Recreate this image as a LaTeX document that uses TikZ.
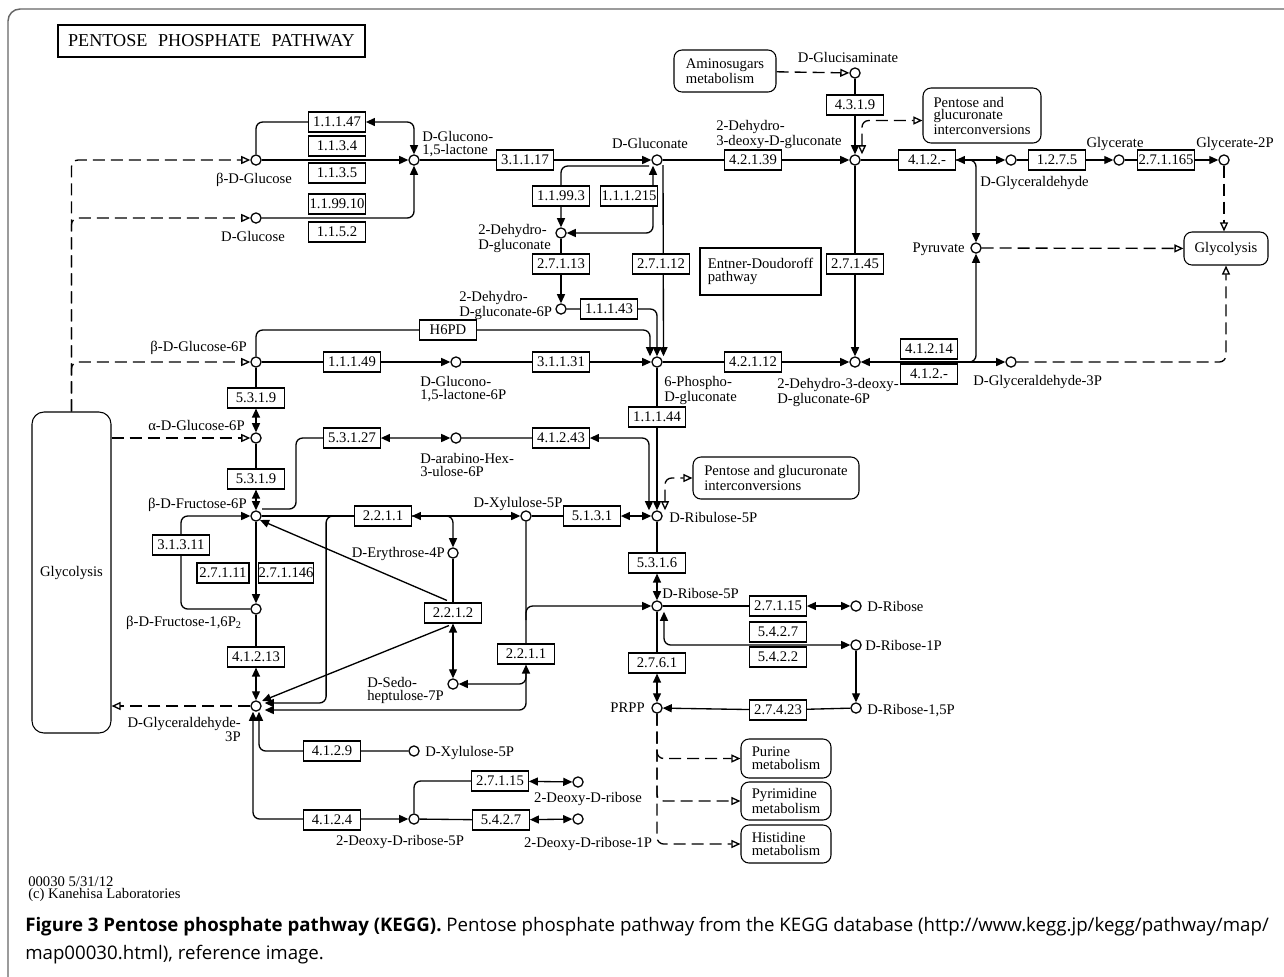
\documentclass[tikz,border=0pt]{standalone}
\usepackage{fontspec}
\setmainfont{Liberation Serif}
\newfontfamily\capfont{Open Sans}
\usetikzlibrary{calc,arrows.meta,backgrounds}

\newcommand{\keggfont}{\fontsize{11}{9.6}\selectfont}
\newcommand{\pptitlefont}{\fontsize{13.6}{14}\selectfont}

\tikzset{
  cpd/.style={circle, draw, fill=white, line width=0.95pt, inner sep=0pt, minimum size=7.6pt},
  ec/.style={draw, fill=white, line width=0.8pt, inner sep=0pt, minimum width=42.5pt, minimum height=15pt, font=\keggfont},
  mapbox/.style={draw, fill=white, line width=0.8pt, rounded corners=6pt, align=left, inner sep=0pt, font=\keggfont},
  lbl/.style={inner sep=0pt, align=left, font=\keggfont},
  rxn/.style={line width=1pt, rounded corners=5pt},
  fwd/.style={rxn, -{Triangle[length=6.8pt,width=6pt]}},
  bidir/.style={rxn, {Triangle[length=6.8pt,width=6pt]}-{Triangle[length=6.8pt,width=6pt]}},
  lnk/.style={line width=1pt, rounded corners=5pt, dash pattern=on 9pt off 4.5pt, -{Triangle[open,length=6.8pt,width=6pt]}},
  lnkb/.style={lnk, {Triangle[open,length=6.8pt,width=6pt]}-{Triangle[open,length=6.8pt,width=6pt]}},
}

\begin{document}
\begin{tikzpicture}[x=0.75pt, y=-0.75pt]
    \useasboundingbox (0,0) rectangle (1284,976);

    % frame round the figure
    \draw[black!60, line width=1.1pt, rounded corners=9pt] (8,995) -- (8,9) -- (1295,9);

    % title
    \node[draw, line width=1.7pt, minimum width=230pt, minimum height=24pt, inner sep=0pt, font=\pptitlefont] (title) at (211.5,41) {PENTOSE\hspace{8pt}PHOSPHATE\hspace{8pt}PATHWAY};

    % Define compounds
    \node[cpd] (bglc)   at (256,160) {};
    \node[cpd] (glc)    at (256,218) {};
    \node[cpd] (glcnl)  at (414,160) {};
    \node[cpd] (glcn)   at (657,160) {};
    \node[cpd] (dhg)    at (561,233) {};
    \node[cpd] (dhg6p)  at (561,309) {};
    \node[cpd] (glcsn)  at (855,73) {};
    \node[cpd] (kdg)    at (855,160) {};
    \node[cpd] (glyald) at (1011,160) {};
    \node[cpd] (glyc)   at (1119,160) {};
    \node[cpd] (glyc2p) at (1224,160) {};
    \node[cpd] (pyr)    at (976,248) {};
    \node[cpd] (g6p)    at (256,362) {};
    \node[cpd] (gnl6p)  at (456,362) {};
    \node[cpd] (pg6)    at (657,362) {};
    \node[cpd] (kdpg)   at (855,362) {};
    \node[cpd] (gap2)   at (1011,362) {};
    \node[cpd] (a6p)    at (256,438) {};
    \node[cpd] (hu6p)   at (456,438) {};
    \node[cpd] (f6p)    at (256,516) {};
    \node[cpd] (xu5p)   at (526,516) {};
    \node[cpd] (ru5p)   at (657,516) {};
    \node[cpd] (e4p)    at (453,553) {};
    \node[cpd] (fbp)    at (256,609) {};
    \node[cpd] (r5p)    at (657,606) {};
    \node[cpd] (rib)    at (856,606) {};
    \node[cpd] (r1p)    at (856,645) {};
    \node[cpd] (s7p)    at (453,684) {};
    \node[cpd] (gap)    at (256,706) {};
    \node[cpd] (prpp)   at (657,708) {};
    \node[cpd] (r15p)   at (856,708) {};
    \node[cpd] (xu5pb)  at (414,751) {};
    \node[cpd] (drib)   at (578,782) {};
    \node[cpd] (dr5p)   at (414,819) {};
    \node[cpd] (dr1p)   at (578,819) {};

    % Label compounds
    \node[lbl, anchor=north] (bglcL) at (254,173) {β-D-Glucose};
    \node[lbl, anchor=north] (glcL) at (253,231) {D-Glucose};
    \node[lbl, anchor=north west] (glcnlL) at (422,131) {D-Glucono-\\1,5-lactone};
    \node[lbl, anchor=north] (glcnL) at (650,138) {D-Gluconate};
    \node[lbl, anchor=north west] (kdgL) at (716,120) {2-Dehydro-\\3-deoxy-D-gluconate};
    \node[lbl, anchor=north] (glcsnL) at (848,52) {D-Glucisaminate};
    \node[lbl, anchor=north west] (dhgL) at (478,224) {2-Dehydro-\\D-gluconate};
    \node[lbl, anchor=north west] (dhg6pL) at (459,291) {2-Dehydro-\\D-gluconate-6P};
    \node[lbl, anchor=north] (glycL) at (1115,137) {Glycerate};
    \node[lbl, anchor=north] (glyc2pL) at (1235,137) {Glycerate-2P};
    \node[lbl, anchor=north west] (glyaldL) at (980,176) {D-Glyceraldehyde};
    \node[lbl, anchor=north east] (pyrL) at (965,243) {Pyruvate};
    \node[lbl, anchor=north east] (g6pL) at (247,341) {β-D-Glucose-6P};
    \node[lbl, anchor=north east] (a6pL) at (245,420) {α-D-Glucose-6P};
    \node[lbl, anchor=north east] (f6pL) at (247,498) {β-D-Fructose-6P};
    \node[lbl, anchor=north east] (fbpL) at (242,616) {β-D-Fructose-1,6P\textsubscript{2}};
    \node[lbl, anchor=north east, align=right] (gapL) at (241,717) {D-Glyceraldehyde-\\3P};
    \node[lbl, anchor=north west] (gnl6pL) at (420,376) {D-Glucono-\\1,5-lactone-6P};
    \node[lbl, anchor=north west] (pg6L) at (664,376) {6-Phospho-\\D-gluconate};
    \node[lbl, anchor=north west] (kdpgL) at (777,378) {2-Dehydro-3-deoxy-\\D-gluconate-6P};
    \node[lbl, anchor=north west] (gap2L) at (973,375) {D-Glyceraldehyde-3P};
    \node[lbl, anchor=north west] (hu6pL) at (420,453) {D-arabino-Hex-\\3-ulose-6P};
    \node[lbl, anchor=north] (xu5pL) at (518,497) {D-Xylulose-5P};
    \node[lbl, anchor=north west] (ru5pL) at (669,512) {D-Ribulose-5P};
    \node[lbl, anchor=north east] (e4pL) at (445,547) {D-Erythrose-4P};
    \node[lbl, anchor=north west] (r5pL) at (662,588) {D-Ribose-5P};
    \node[lbl, anchor=north west] (ribL) at (867,601) {D-Ribose};
    \node[lbl, anchor=north west] (r1pL) at (865,640) {D-Ribose-1P};
    \node[lbl, anchor=north west] (r15pL) at (867,704) {D-Ribose-1,5P};
    \node[lbl, anchor=north east] (prppL) at (645,703) {PRPP};
    \node[lbl, anchor=north west] (s7pL) at (367,677) {D-Sedo-\\heptulose-7P};
    \node[lbl, anchor=north west] (xu5pbL) at (425,746) {D-Xylulose-5P};
    \node[lbl, anchor=north] (dr5pL) at (400,835) {2-Deoxy-D-ribose-5P};
    \node[lbl, anchor=north] (dribL) at (588,792) {2-Deoxy-D-ribose};
    \node[lbl, anchor=north] (dr1pL) at (588,837) {2-Deoxy-D-ribose-1P};

    % Enzyme boxes
    \node[ec] (e11147)  at (337,122) {1.1.1.47};
    \node[ec] (e1134)   at (337,146) {1.1.3.4};
    \node[ec] (e1135)   at (337,173) {1.1.3.5};
    \node[ec] (e119910) at (337,204) {1.1.99.10};
    \node[ec] (e1152)   at (337,232) {1.1.5.2};
    \node[ec] (e31117)  at (525,160) {3.1.1.17};
    \node[ec] (e11993)  at (561,196) {1.1.99.3};
    \node[ec] (e111215) at (629,196) {1.1.1.215};
    \node[ec] (e27113)  at (561,264) {2.7.1.13};
    \node[ec] (e27112)  at (661,264) {2.7.1.12};
    \node[ec] (e11143)  at (609,309) {1.1.1.43};
    \node[ec] (h6pd)    at (448,330) {H6PD};
    \node[ec] (e42139)  at (753,160) {4.2.1.39};
    \node[ec] (e4319)   at (855,105) {4.3.1.9};
    \node[ec] (e27145)  at (855,264) {2.7.1.45};
    \node[ec] (e412a)   at (927,160) {4.1.2.-};
    \node[ec] (e1275)   at (1057,160) {1.2.7.5};
    \node[ec] (e271165) at (1166,160) {2.7.1.165};
    \node[ec] (e41214)  at (929,349) {4.1.2.14};
    \node[ec] (e412b)   at (929,374) {4.1.2.-};
    \node[ec] (e11149)  at (352,362) {1.1.1.49};
    \node[ec] (e31131)  at (561,362) {3.1.1.31};
    \node[ec] (e42112)  at (753,362) {4.2.1.12};
    \node[ec] (e11144)  at (657,417) {1.1.1.44};
    \node[ec] (e5319a)  at (256,398) {5.3.1.9};
    \node[ec] (e5319b)  at (256,479) {5.3.1.9};
    \node[ec] (e53127)  at (352,438) {5.3.1.27};
    \node[ec] (e41243)  at (561,438) {4.1.2.43};
    \node[ec] (e2211a)  at (383,516) {2.2.1.1};
    \node[ec] (e5131)   at (592,516) {5.1.3.1};
    \node[ec] (e31311)  at (181,545) {3.1.3.11};
    \node[ec, minimum width=39pt] (e27111)  at (223,573) {2.7.1.11};
    \node[ec, minimum width=40.5pt] (e271146) at (286,573) {2.7.1.146};
    \node[ec] (e5316)   at (657,563) {5.3.1.6};
    \node[ec] (e27115a) at (778,606) {2.7.1.15};
    \node[ec] (e5427a)  at (778,632) {5.4.2.7};
    \node[ec] (e5422)   at (778,657) {5.4.2.2};
    \node[ec] (e2212)   at (453,613) {2.2.1.2};
    \node[ec] (e2211b)  at (526,654) {2.2.1.1};
    \node[ec] (e2761)   at (657,663) {2.7.6.1};
    \node[ec] (e27423)  at (778,710) {2.7.4.23};
    \node[ec] (e41213)  at (256,657) {4.1.2.13};
    \node[ec] (e4129)   at (332,751) {4.1.2.9};
    \node[ec] (e4124)   at (332,820) {4.1.2.4};
    \node[ec] (e27115b) at (500,781) {2.7.1.15};
    \node[ec] (e5427b)  at (501,820) {5.4.2.7};

    % Pathway maps
    \node[mapbox, minimum width=76.5pt, minimum height=31.5pt] (amino) at (725,71) {Aminosugars\\metabolism};
    \node[mapbox, minimum width=88.5pt, minimum height=41.25pt] (pent1) at (982,115.5) {Pentose and\\glucuronate\\interconversions};
    \node[mapbox, minimum width=124.5pt, minimum height=31.5pt] (pent2) at (776,478) {Pentose and glucuronate\\interconversions};
    \node[mapbox, minimum width=63pt, minimum height=24.75pt] (glyco2) at (1226,248.5) {Glycolysis};
    \node[mapbox, rounded corners=9pt, minimum width=59.25pt, minimum height=240.75pt] (glyco1) at (71.5,572.5) {Glycolysis};
    \node[mapbox, minimum width=67.5pt, minimum height=29.25pt] (purine) at (786,758.5) {Purine\\metabolism};
    \node[mapbox, minimum width=67.5pt, minimum height=28.5pt] (pyrim) at (786,801) {Pyrimidine\\metabolism};
    \node[mapbox, minimum width=67.5pt, minimum height=28.5pt] (histid) at (786,844) {Histidine\\metabolism};
    \node[draw, fill=white, line width=0.8pt, minimum width=90.75pt, minimum height=35.25pt, inner sep=0pt, align=left, font=\keggfont] (edp) at (760.5,271.5) {Entner-Doudoroff\\pathway};

    % stamp and caption
    \node[lbl, anchor=north west] (stamp) at (28,876) {00030 5/31/12\\(c) Kanehisa Laboratories};
    \node[anchor=north west, inner sep=0pt, align=left, font={\capfont\fontsize{14}{21}\selectfont}] (caption) at (25,917) {\textbf{Figure 3 Pentose phosphate pathway (KEGG).} Pentose phosphate pathway from the KEGG database (http://www.kegg.jp/kegg/pathway/map/\\map00030.html), reference image.};

    \begin{pgfonlayer}{background}
    % glucose to gluconate
    \draw[bidir] (bglc) |- (e11147) -| (glcnl);
    \draw[fwd] (bglc) -- (glcnl);
    \draw[fwd] (glc) -| (glcnl);
    \draw[fwd] (glcnl) -- (e31117) -- (glcn);
    \draw[fwd] ($(glcn)+(-8,6)$) -| (dhg);
    \draw[bidir] (dhg) -| ($(glcn.south)+(-4,0)$);
    \draw[fwd] (dhg) -- (e27113) -- (dhg6p);
    \draw[fwd] (dhg6p) -- (e11143) -| (pg6);
    \draw[fwd] (g6p) |- (h6pd) -| ($(pg6.north)+(-7,0)$);
    \draw[fwd] ($(glcn)+(6,5)$) -- ($(pg6.north)+(6.5,0)$);

    % Entner-Doudoroff side
    \draw[fwd] (glcn) -- (e42139) -- (kdg);
    \draw[lnk] (amino) -- (glcsn);
    \draw[fwd] (glcsn) -- (e4319) -- (kdg);
    \draw[lnkb] ($(kdg.north)+(7,0)$) |- ($(pent1.west)+(0,5)$);
    \draw[fwd] (kdg) -- (e27145) -- (kdpg);
    \draw[bidir] (kdg) -- (e412a) -- (glyald);
    \draw[fwd] (e412a.east) -| (pyr);
    \draw[fwd] (glyald) -- (e1275) -- (glyc);
    \draw[fwd] (glyc) -- (e271165) -- (glyc2p);
    \draw[lnk] (glyc2p) -- (glyc2p |- glyco2.north);
    \draw[lnk] (pyr) -- (glyco2);
    \draw[lnk] (gap2) -| (glyco2);
    \draw[bidir] (kdpg) -- (gap2);
    \draw[fwd] (e41214.east |- kdpg) -| (pyr);

    % oxidative branch
    \draw[fwd] (g6p) -- (e11149) -- (gnl6p);
    \draw[fwd] (gnl6p) -- (e31131) -- (pg6);
    \draw[fwd] (pg6) -- (e42112) -- (kdpg);
    \draw[fwd] (pg6) -- (e11144) -- (ru5p);
    \draw[bidir] (hu6p) -- (e41243) -| ($(ru5p.north)+(-8,0)$);
    \draw[bidir] ($(f6p)+(6,-7)$) -- ++(34,0) |- (e53127) -- (hu6p);
    \draw[lnkb] ($(ru5p.north)+(8,0)$) |- (pent2);

    % glycolysis side
    \draw[lnk] (glyco1.north) |- (bglc);
    \draw[lnk] (glyco1.north) |- (glc);
    \draw[lnk] (glyco1.north) |- (g6p);
    \draw[lnk] (glyco1.east |- a6p) -- (a6p);
    \draw[lnk] (gap) -- (gap -| glyco1.east);
    \draw[bidir] (g6p) -- (e5319a) -- (a6p);
    \draw[bidir] (a6p) -- (e5319b) -- (f6p);
    \draw[fwd] (f6p) -- (fbp);
    \draw[fwd] (fbp) -| (e31311) |- (f6p);
    \draw[bidir] (fbp) -- (e41213) -- (gap);

    % non-oxidative branch
    \draw[bidir] (f6p) -- (e2211a) -- (xu5p);
    \draw[fwd] (e2211a.east) -| (e4p);
    \draw[fwd] (e2211a.west) -- ++(-28,0) |- ($(gap.east)+(3,-3)$);
    \draw[bidir] (e4p) -- (e2212) -- (s7p);
    \draw[fwd] ($(e2212.north)+(-6,-2)$) -- (f6p.south east);
    \draw[fwd] ($(e2212.south)+(-4,2)$) -- ($(gap.north east)+(2,-1)$);
    \draw[bidir] (xu5p) -- (e2211b) |- ($(gap.east)+(3,4)$);
    \draw[fwd] ($(xu5p)+(0,104)$) |- (r5p);
    \draw[fwd] ($(xu5p)+(0,152)$) |- (s7p);
    \draw[bidir] (xu5p) -- (e5131) -- (ru5p);

    % ribose
    \draw[bidir] (ru5p) -- (e5316) -- (r5p);
    \draw[bidir] (r5p) -- (e27115a) -- (rib);
    \draw[bidir] ($(r5p.south)+(7,0)$) |- (r1p);
    \draw[bidir] (r5p) -- (e2761) -- (prpp);
    \draw[fwd] (r1p) -- (r15p);
    \draw[fwd] (r15p) -- (e27423) -- (prpp);
    \draw[lnk] (prpp) |- (purine);
    \draw[lnk] (prpp) |- (pyrim);
    \draw[lnk] (prpp) |- (histid);

    % deoxyribose
    \draw[fwd] (xu5pb) -| ($(gap.south)+(3,0)$);
    \draw[bidir] ($(gap.south)+(-3,0)$) |- (dr5p);
    \draw[bidir] (dr5p) |- (e27115b) -- (drib);
    \draw[bidir] (dr5p) -- (e5427b) -- (dr1p);
    \end{pgfonlayer}

\end{tikzpicture}
\end{document}
